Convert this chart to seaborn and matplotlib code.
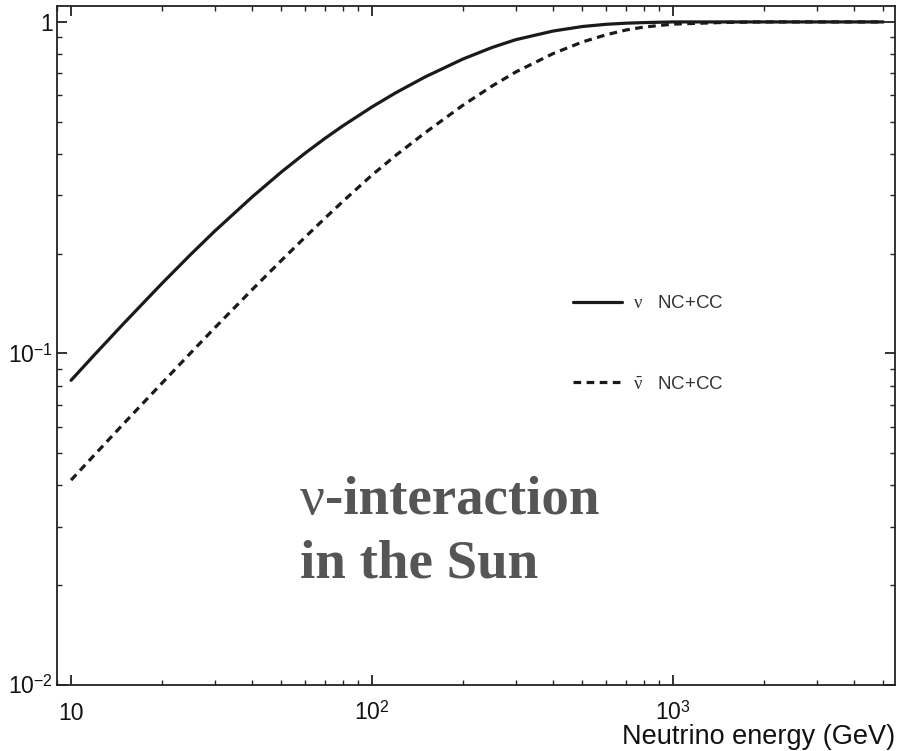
import matplotlib
matplotlib.use("Agg")
import matplotlib.pyplot as plt
import pandas as pd
import seaborn as sns
from matplotlib.ticker import FixedLocator, FixedFormatter, LogLocator, NullFormatter

# Probability of interaction inside the Sun vs neutrino energy
energy_gev = [10, 12, 15, 20, 25, 30, 40, 50, 60, 70, 80, 100, 120, 150, 200, 250,
              300, 400, 500, 600, 700, 800, 1000, 1500, 2000, 5000]
nu_prob = [0.083, 0.0994, 0.1235, 0.1623, 0.1991, 0.2338, 0.2968, 0.3528, 0.4023,
           0.4464, 0.4859, 0.5543, 0.6117, 0.6824, 0.7722, 0.8369, 0.8839, 0.9389,
           0.9687, 0.9838, 0.9914, 0.9954, 1.0, 1.0, 1.0, 1.0]
nubar_prob = [0.0415, 0.0496, 0.0616, 0.0812, 0.1005, 0.1194, 0.1559, 0.1909, 0.2245,
              0.2567, 0.2875, 0.3454, 0.396, 0.463, 0.560, 0.640, 0.706, 0.803, 0.870,
              0.915, 0.946, 0.965, 0.985, 0.997, 1.0, 1.0]

series_labels = [r"$\nu$   NC+CC", r"$\bar{\nu}$   NC+CC"]
x_ticks = [10, 100, 1000]
x_tick_labels = ["10", r"$10^{2}$", r"$10^{3}$"]
y_ticks = [0.01, 0.1, 1]
y_tick_labels = [r"$10^{-2}$", r"$10^{-1}$", "1"]

df = pd.DataFrame({"energy": energy_gev * 2,
                   "prob": nu_prob + nubar_prob,
                   "kind": [series_labels[0]] * len(energy_gev) + [series_labels[1]] * len(energy_gev)})

sns.set_style("ticks")
plt.rcParams["font.family"] = ["Liberation Sans", "DejaVu Sans"]
plt.rcParams["mathtext.fontset"] = "custom"
plt.rcParams["mathtext.rm"] = "Liberation Sans"
plt.rcParams["mathtext.sf"] = "Liberation Sans"
plt.rcParams["mathtext.it"] = "Liberation Serif"

fig = plt.figure(figsize=(9.06, 7.51), dpi=100)
ax = fig.add_axes([57 / 906, 1 - 685 / 751, (895 - 57) / 906, (685 - 6) / 751])

ink = "#1a1a1a"
sns.lineplot(data=df[df["kind"] == series_labels[0]], x="energy", y="prob", ax=ax,
             color=ink, linewidth=2.3, label=series_labels[0])
sns.lineplot(data=df[df["kind"] == series_labels[1]], x="energy", y="prob", ax=ax,
             color=ink, linewidth=2.3, linestyle=(0, (2.4, 1.7)), label=series_labels[1])

ax.set_xscale("log")
ax.set_yscale("log")
ax.set_xlim(8.98, 5464)
ax.set_ylim(0.01, 1.117)

ax.xaxis.set_major_locator(FixedLocator(x_ticks))
ax.xaxis.set_major_formatter(FixedFormatter(x_tick_labels))
ax.yaxis.set_major_locator(FixedLocator(y_ticks))
ax.yaxis.set_major_formatter(FixedFormatter(y_tick_labels))
for axis in (ax.xaxis, ax.yaxis):
    axis.set_minor_locator(LogLocator(base=10, subs=range(2, 10)))
    axis.set_minor_formatter(NullFormatter())

for sp in ax.spines.values():
    sp.set_visible(True)
    sp.set_color("#222222")
    sp.set_linewidth(1.3)

ax.tick_params(which="both", direction="in", top=True, right=True, color="#222222",
               labelcolor="#111111", labelsize=16.5)
ax.tick_params(which="major", length=7.5, width=1.3)
ax.tick_params(which="minor", length=3.5, width=1.0)
ax.tick_params(axis="x", which="major", pad=25)
ax.tick_params(axis="y", which="major", pad=3)
for lbl in ax.get_xticklabels():
    lbl.set_verticalalignment("baseline")

ax.set_ylabel("")
ax.set_xlabel("Neutrino energy (GeV)", fontsize=19.5, color="#111111")
ax.xaxis.set_label_coords(1.0, -(744 - 685) / 679)
ax.xaxis.label.set_horizontalalignment("right")
ax.xaxis.label.set_verticalalignment("baseline")

leg = ax.legend(loc="upper left", bbox_to_anchor=((573 - 57) / 838, (685 - 295) / 679),
                frameon=False, fontsize=13.5, handlelength=2.6, handletextpad=0.6,
                labelspacing=3.4, borderpad=0, borderaxespad=0)
for t in leg.get_texts():
    t.set_color("#333333")

title_color = "#555555"
nu = ax.text((300 - 57) / 838, (685 - 514) / 679, "ν", transform=ax.transAxes,
             fontfamily="Liberation Serif", fontsize=39.5, color=title_color, va="baseline")
ax.annotate("-interaction", xy=(1, 0), xycoords=nu, va="bottom", ha="left",
            fontfamily="Liberation Serif", fontweight="bold", fontsize=39.5, color=title_color)
ax.text((300 - 57) / 838, (685 - 578) / 679, "in the Sun", transform=ax.transAxes,
        fontfamily="Liberation Serif", fontweight="bold", fontsize=39.5, color=title_color,
        va="baseline")

fig.savefig("out.png", dpi=100, facecolor="white")
